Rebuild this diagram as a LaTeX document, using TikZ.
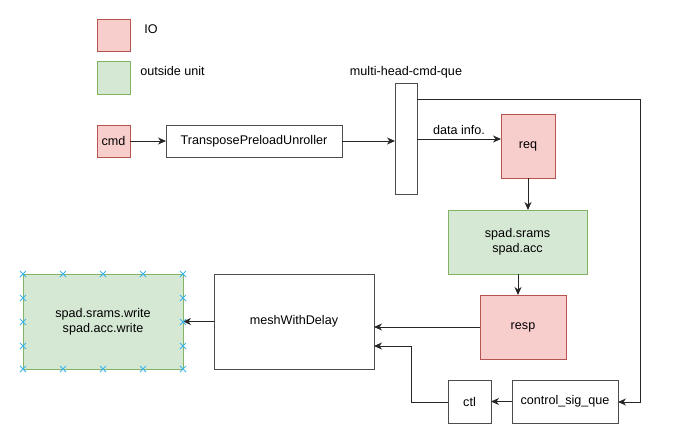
\documentclass[tikz,border=0pt]{standalone}
\usepackage{fontspec}
\setmainfont{Liberation Sans}
\usetikzlibrary{arrows.meta}
\definecolor{iofill}{HTML}{F8CECC}
\definecolor{iodraw}{HTML}{B85450}
\definecolor{oufill}{HTML}{D5E8D4}
\definecolor{oudraw}{HTML}{82B366}
\definecolor{handle}{HTML}{3CB4EF}
\begin{document}
\begin{tikzpicture}[x=1pt,y=-1pt,
  every node/.style={font=\fontsize{12.6}{15}\selectfont, inner sep=0pt, outer sep=0pt, align=center},
  box/.style={draw=black!70, line width=0.9pt, fill=white},
  iobox/.style={draw=iodraw, fill=iofill, line width=0.9pt},
  oubox/.style={draw=oudraw, fill=oufill, line width=0.9pt},
  arr/.style={draw=black!85, line width=0.9pt, -{Stealth[length=8pt,width=7pt,inset=2.5pt]}},
  hdl/.style={draw=handle, line width=0.9pt}
]
\useasboundingbox (0,0) rectangle (675,445);
% legend
\node[iobox, minimum width=33pt, minimum height=32pt] (lio) at (113.5,35) {};
\node (lioT) at (151,29) {IO};
\node[oubox, minimum width=33pt, minimum height=33pt] (lou) at (113.5,77.5) {};
\node (louT) at (172.5,71) {outside unit};
% nodes
\node[iobox, minimum width=33pt, minimum height=32pt] (cmd) at (113.5,141) {cmd};
\node[box, minimum width=176pt, minimum height=32pt] (tpu) at (254,141) {TransposePreloadUnroller};
\node[box, minimum width=22pt, minimum height=111pt] (bar) at (406,138.5) {};
\node (barT) at (406,72) {multi-head-cmd-que};
\node[iobox, minimum width=54pt, minimum height=64pt] (req) at (528,146) {req};
\node[oubox, minimum width=139pt, minimum height=64pt] (srams) at (517.5,242) {spad.srams\\spad.acc};
\node[iobox, minimum width=86pt, minimum height=64pt] (resp) at (523,327) {resp};
\node[box, minimum width=160pt, minimum height=95pt] (mesh) at (294,321.5) {meshWithDelay};
\node[oubox, minimum width=160pt, minimum height=95pt] (wr) at (103,321.5) {spad.srams.write\\spad.acc.write};
\node[box, minimum width=43pt, minimum height=43pt] (ctl) at (469.5,401.5) {ctl};
\node[box, minimum width=106pt, minimum height=43pt] (csq) at (565,401.5) {control\_sig\_que};
\coordinate (topR) at (640,99);
\coordinate (botR) at (640,402);
\coordinate (ctlL) at (411,402);
\coordinate (ctlU) at (411,346);
% connectors
\draw[arr] (cmd.east) -- (tpu.west);
\draw[arr] (tpu.east) -- (tpu.east -| bar.west);
\draw[arr] (bar.east |- 0,139) -- node[above=4pt] (di) {data info.} (req.west |- 0,139);
\draw[arr] (req.south) -- (req.south |- srams.north);
\draw[arr] (srams.south -| 518,0) -- (resp.north -| 518,0);
\draw[arr] (resp.west) -- (resp.west -| mesh.east);
\draw[arr] (ctl.west |- ctlL) -- (ctlL) -- (ctlU) -- (ctlU -| mesh.east);
\draw[arr] (csq.west) -- (ctl.east);
\draw[arr] (bar.east |- topR) -- (topR) -- (botR) -- (csq.east |- botR);
\draw[arr] (mesh.west) -- (wr.east);
% selection handles
\foreach \hx in {23,63,103,143,183} {
  \foreach \hy in {274,369} {
    \draw[hdl] (\hx-3,\hy-3) -- (\hx+3,\hy+3) (\hx-3,\hy+3) -- (\hx+3,\hy-3);
  }
}
\foreach \hy in {298,322,346} {
  \foreach \hx in {23,183} {
    \draw[hdl] (\hx-3,\hy-3) -- (\hx+3,\hy+3) (\hx-3,\hy+3) -- (\hx+3,\hy-3);
  }
}
\end{tikzpicture}
\end{document}
